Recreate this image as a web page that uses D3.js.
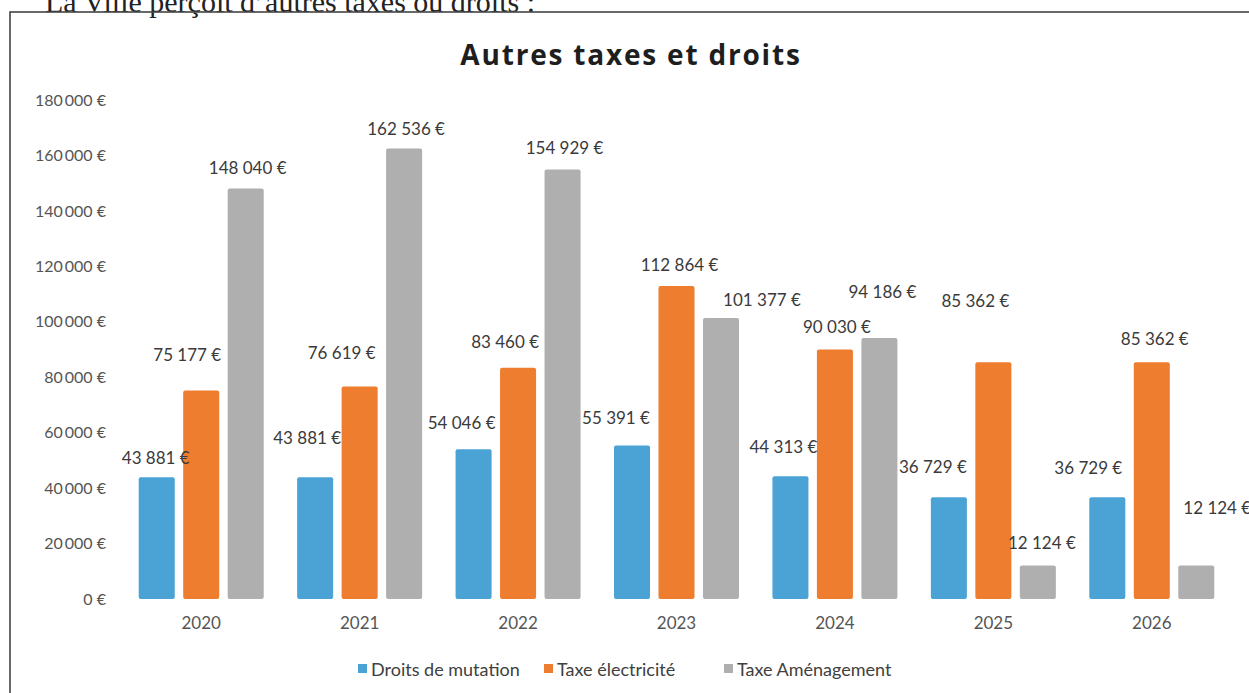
<!DOCTYPE html>
<html>
<head>
<meta charset="utf-8">
<script src="https://cdn.jsdelivr.net/npm/d3@7"></script>
<style>
  body { margin: 0; background: #fff; }
  svg text { font-family: Lato, "Open Sans", sans-serif; }
</style>
</head>
<body>
<div id="chart"></div>
<script>
// data
var years = ["2020", "2021", "2022", "2023", "2024", "2025", "2026"]
var series = ["Droits de mutation", "Taxe électricité", "Taxe Aménagement"]
var droitsMutation = [43881, 43881, 54046, 55391, 44313, 36729, 36729]
var taxeElectricite = [75177, 76619, 83460, 112864, 90030, 85362, 85362]
var taxeAmenagement = [148040, 162536, 154929, 101377, 94186, 12124, 12124]
var yTicks = [0, 20000, 40000, 60000, 80000, 100000, 120000, 140000, 160000, 180000]

var colors = ["#4ba2d5", "#ee7d2f", "#afafaf"]

// labels were moved by hand in the original, so nudge them (dx, dy per series)
var labelNudge = [
    [[-1, -8], [-14, -24], [2, -9]],
    [[-8, -28], [-18, -22], [2, -8]],
    [[-12, -15], [-13, -14], [2, -10]],
    [[-16, -16], [3, -10], [41, -6]],
    [[-7, -18], [2, -11], [3, -34]],
    [[-16, -19], [-18, -50], [4, -11]],
    [[-19, -18], [3, -12], [21, -46]]
]

var width = 1249, height = 693
var margin = {top: 100, right: 18, bottom: 94, left: 122}

var svg = d3.select("#chart")
    .append("svg")
    .attr("width", width)
    .attr("height", height)

// text of the page above the chart, cut off by the scan
svg.append("text")
    .attr("x", 45)
    .attr("y", 12)
    .style("font-family", "'Liberation Serif', serif")
    .style("font-size", "30px")
    .attr("fill", "#222")
    .text("La Ville perçoit d\u2019autres taxes ou droits :")

// frame
svg.append("rect")
    .attr("x", 10)
    .attr("y", 12)
    .attr("width", 1300)
    .attr("height", 800)
    .attr("fill", "none")
    .attr("stroke", "#444")
    .attr("stroke-width", 1.6)

// title
svg.append("text")
    .attr("x", 631)
    .attr("y", 65)
    .attr("text-anchor", "middle")
    .style("font-family", "'Open Sans', sans-serif")
    .style("font-size", "28px")
    .style("font-weight", "bold")
    .style("letter-spacing", "1.8px")
    .attr("fill", "#1e1e1e")
    .text("Autres taxes et droits")

var x0 = d3.scaleBand()
    .domain(years)
    .range([margin.left, width - margin.right])

var x1 = d3.scaleBand()
    .domain(series)
    .range([-62.5, 62.5])
    .paddingInner(0.19)

var y = d3.scaleLinear()
    .domain([0, 180000])
    .range([height - margin.bottom, margin.top])

var fmt = function (v) {
    return d3.format(",")(v).replace(/,/g, " ") + " €"
}

// y axis (labels only)
var yAxis = svg.append("g")
    .attr("transform", "translate(106,0)")
    .call(d3.axisLeft(y).tickValues(yTicks).tickSize(0).tickPadding(0)
        .tickFormat(function (d) { return d3.format(",")(d).replace(/,/g, "\u2009") + " €" }))
yAxis.select(".domain").remove()
yAxis.selectAll("text")
    .style("font-size", "16px")
    .attr("fill", "#555")

// x axis (labels only)
var xAxis = svg.append("g")
    .attr("transform", "translate(0," + (height - margin.bottom) + ")")
    .call(d3.axisBottom(x0).tickSize(0).tickPadding(18))
xAxis.select(".domain").remove()
xAxis.selectAll("text")
    .style("font-size", "17px")
    .attr("fill", "#555")

var allSeries = [droitsMutation, taxeElectricite, taxeAmenagement]
var rows = []
years.forEach(function (yr, i) {
    series.forEach(function (s, j) {
        rows.push({year: yr, i: i, s: s, j: j, value: allSeries[j][i]})
    })
})

var barX = function (d) { return x0(d.year) + x0.bandwidth() / 2 + x1(d.s) }

svg.append("g")
    .selectAll("rect")
    .data(rows)
    .enter()
    .append("rect")
    .attr("x", barX)
    .attr("y", function (d) { return y(d.value) })
    .attr("width", x1.bandwidth())
    .attr("height", function (d) { return y(0) - y(d.value) })
    .attr("rx", 2)
    .attr("fill", function (d) { return colors[d.j] })

svg.append("g")
    .selectAll("text")
    .data(rows)
    .enter()
    .append("text")
    .attr("x", function (d) { return barX(d) + x1.bandwidth() / 2 + labelNudge[d.i][d.j][0] })
    .attr("y", function (d) { return y(d.value) - 12 + labelNudge[d.i][d.j][1] })
    .attr("text-anchor", "middle")
    .attr("dominant-baseline", "central")
    .style("font-size", "17px")
    .attr("fill", "#3a3a3a")
    .text(function (d) { return fmt(d.value) })

// legend
var legendX = [358, 544, 724]
var legend = svg.append("g")
    .selectAll("g")
    .data(series)
    .enter()
    .append("g")
    .attr("transform", function (d, i) { return "translate(" + legendX[i] + ",669)" })
legend.append("rect")
    .attr("x", 0)
    .attr("y", -5)
    .attr("width", 9)
    .attr("height", 9)
    .attr("fill", function (d, i) { return colors[i] })
legend.append("text")
    .attr("x", 13)
    .attr("y", 0)
    .attr("dominant-baseline", "central")
    .style("font-size", "18px")
    .attr("fill", "#404040")
    .text(function (d) { return d })
</script>
</body>
</html>
